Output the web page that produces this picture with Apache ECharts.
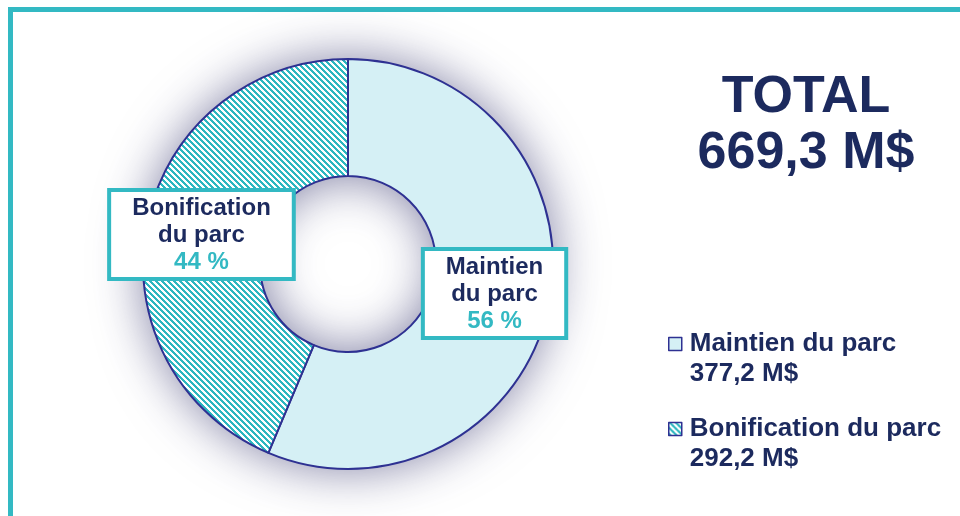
<!DOCTYPE html>
<html>
<head>
<meta charset="utf-8">
<script src="https://cdn.jsdelivr.net/npm/echarts@6/dist/echarts.min.js"></script>
<style>
  html, body { margin: 0; padding: 0; background: #fff; }
  #chart { width: 960px; height: 516px; }
</style>
</head>
<body>
<div id="chart"></div>
<script>
// données
const names = ['Maintien du parc', 'Bonification du parc'];
const values = [377.2, 292.2];
const valueLabels = ['377,2 M$', '292,2 M$'];
const totalLabel = '669,3 M$';

const navy = '#1c2a5e';
const teal = '#33b9c3';
const ring = '#2e3192';

// motif hachuré (diagonales descendantes à 45°)
let hatch = function () {
    let s = 6;
    let c = document.createElement('canvas');
    c.width = s;
    c.height = s;
    let ctx = c.getContext('2d');
    ctx.fillStyle = '#ffffff';
    ctx.fillRect(0, 0, s, s);
    ctx.fillStyle = '#2db7c0';
    for (let y = 0; y < s; y++) {
        for (let x = 0; x < s; x++) {
            if (((x - y) % s + s) % s < 3) {
                ctx.fillRect(x, y, 1, 1);
            }
        }
    }
    return { image: c, repeat: 'repeat' };
};

const fills = ['#d5f0f5', hatch()];

let createEchart = function (id, option) {
    let chart = echarts.init(document.getElementById(id));
    chart.setOption(option);
    return chart;
};

let donutChart = function () {
    let option = {
        animation: false,
        title: {
            text: 'TOTAL\n' + totalLabel,
            left: 806,
            top: 70,
            padding: 0,
            textAlign: 'center',
            textStyle: {
                color: navy,
                fontFamily: 'Liberation Sans',
                fontWeight: 'bold',
                fontSize: 52,
                lineHeight: 56
            }
        },
        legend: {
            orient: 'vertical',
            left: 668,
            top: 331,
            padding: 0,
            icon: 'rect',
            itemWidth: 13,
            itemHeight: 13,
            itemGap: 29,
            selectedMode: false,
            data: names,
            itemStyle: { shadowBlur: 0, borderWidth: 1.5, borderColor: ring },
            formatter: function (name) {
                let i = names.indexOf(name);
                return '{n|' + name + '}\n{n|' + valueLabels[i] + '}';
            },
            textStyle: {
                padding: [30, 0, 0, 3],
                rich: {
                    n: {
                        color: navy,
                        fontFamily: 'Liberation Sans',
                        fontWeight: 'bold',
                        fontSize: 26,
                        lineHeight: 30
                    }
                }
            }
        },
        graphic: [{
            type: 'rect',
            silent: true,
            shape: { x: 10.5, y: 9.5, width: 1000, height: 600 },
            style: { fill: 'none', stroke: teal, lineWidth: 5 }
        }],
        series: [
            // ombre derrière l'anneau
            {
                type: 'pie',
                silent: true,
                center: [348, 264],
                radius: [88, 205],
                z: 1,
                label: { show: false },
                labelLine: { show: false },
                itemStyle: {
                    color: '#ffffff',
                    shadowBlur: 50,
                    shadowColor: 'rgba(40, 40, 100, 0.6)'
                },
                data: [{ value: 1 }]
            },
            {
                type: 'pie',
                z: 2,
                center: [348, 264],
                radius: [88, 205],
                startAngle: 90,
                clockwise: true,
                emphasis: { disabled: true },
                labelLine: { show: false },
                itemStyle: { borderColor: ring, borderWidth: 2 },
                label: {
                    show: true,
                    position: 'inside',
                    backgroundColor: '#ffffff',
                    borderColor: teal,
                    borderWidth: 4,
                    padding: [3, 21, 1, 21],
                    formatter: function (p) {
                        return '{n|' + p.name.replace(' du', '\ndu') + '}\n{p|' + Math.round(p.percent) + ' %}';
                    },
                    rich: {
                        n: {
                            color: navy,
                            fontFamily: 'Liberation Sans',
                            fontWeight: 'bold',
                            fontSize: 24,
                            lineHeight: 27,
                            align: 'center'
                        },
                        p: {
                            color: teal,
                            fontFamily: 'Liberation Sans',
                            fontWeight: 'bold',
                            fontSize: 24,
                            lineHeight: 27,
                            align: 'center'
                        }
                    }
                },
                data: names.map(function (n, i) {
                    return {
                        name: n,
                        value: values[i],
                        itemStyle: { color: fills[i] }
                    };
                })
            }
        ]
    };
    return option;
};

createEchart('chart', donutChart());
</script>
</body>
</html>
